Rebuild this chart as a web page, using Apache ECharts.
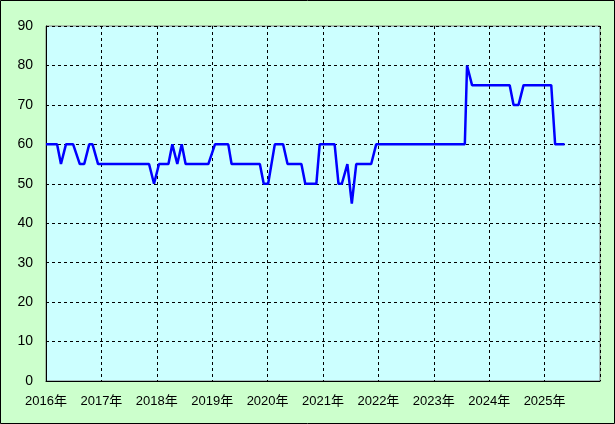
<!DOCTYPE html>
<html>
<head>
<meta charset="utf-8">
<script src="https://cdn.jsdelivr.net/npm/echarts@6/dist/echarts.min.js"></script>
<style>
html,body{margin:0;padding:0;background:#ccffcc;}
#c{width:615px;height:424px;}
</style>
</head>
<body>
<div id="c"></div>
<script>
// time position (fractional year) and value
var dates = [
  2016.00, 2016.20, 2016.27, 2016.36, 2016.49, 2016.61, 2016.69, 2016.78, 2016.84, 2016.94,
  2017.86, 2017.95, 2018.04, 2018.21, 2018.28, 2018.37, 2018.45, 2018.52,
  2018.93, 2019.05, 2019.29, 2019.35, 2019.86, 2019.93, 2020.01,
  2020.13, 2020.28, 2020.36, 2020.61, 2020.68, 2020.88, 2020.94,
  2021.21, 2021.28, 2021.34, 2021.44, 2021.52, 2021.60, 2021.87, 2021.96,
  2023.56, 2023.60, 2023.69, 2024.37, 2024.44, 2024.53, 2024.62,
  2025.12, 2025.19, 2025.36
];
var values = [
  60, 60, 55, 60, 60, 55, 55, 60, 60, 55,
  55, 50, 55, 55, 60, 55, 60, 55,
  55, 60, 60, 55, 55, 50, 50,
  60, 60, 55, 55, 50, 50, 60,
  60, 50, 50, 55, 45, 55, 55, 60,
  60, 80, 75, 75, 70, 70, 75,
  75, 60, 60
];
var yearTicks = [2016, 2017, 2018, 2019, 2020, 2021, 2022, 2023, 2024, 2025];
var yTicks = [0, 10, 20, 30, 40, 50, 60, 70, 80, 90];

var seriesData = dates.map(function (d, i) { return [d, values[i]]; });
var font = "'Liberation Sans', 'Noto Sans CJK JP', sans-serif";

var chart = echarts.init(document.getElementById('c'), null, {renderer: 'canvas'});
chart.setOption({
  animation: false,
  backgroundColor: '#ccffcc',
  grid: {
    left: 46, right: 15, top: 26, bottom: 43,
    show: true, backgroundColor: '#ccffff', borderColor: '#808080', borderWidth: 1
  },
  xAxis: {
    type: 'value',
    min: yearTicks[0],
    max: yearTicks[yearTicks.length - 1] + 1,
    interval: 1,
    axisLine: {show: true, lineStyle: {color: '#000', width: 1}},
    axisTick: {show: false},
    axisLabel: {
      color: '#000', fontSize: 13, fontFamily: font, margin: 14,
      formatter: function (v) { return yearTicks.indexOf(v) >= 0 ? v + '年' : ''; }
    },
    splitLine: {show: true, lineStyle: {color: '#000', type: [3, 3], width: 1}}
  },
  yAxis: {
    type: 'value',
    min: yTicks[0],
    max: yTicks[yTicks.length - 1],
    interval: 10,
    axisLine: {show: true, lineStyle: {color: '#000', width: 1}},
    axisTick: {show: false},
    axisLabel: {
      color: '#000', fontSize: 14, fontFamily: font, margin: 13,
      formatter: function (v) { return yTicks.indexOf(v) >= 0 ? String(v) : ''; }
    },
    splitLine: {show: true, lineStyle: {color: '#000', type: [3, 3], width: 1}}
  },
  series: [{
    type: 'line',
    data: seriesData,
    showSymbol: false,
    lineStyle: {color: '#0000ff', width: 2.5},
    z: 5
  }],
  graphic: [{
    type: 'rect',
    shape: {x: 0.5, y: 0.5, width: 614, height: 423},
    style: {fill: 'none', stroke: '#000', lineWidth: 1},
    silent: true
  }]
});
</script>
</body>
</html>
